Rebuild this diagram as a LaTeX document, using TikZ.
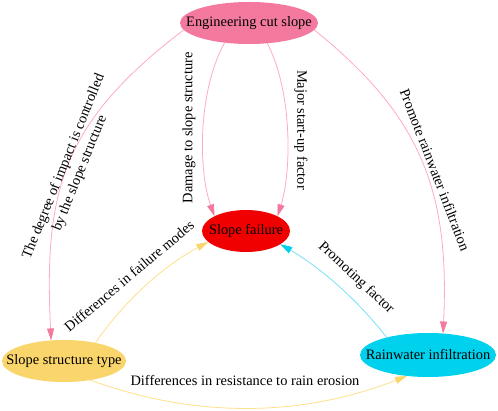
\documentclass[tikz,border=0pt]{standalone}
\usepackage{fontspec}
\setmainfont{Liberation Serif}
\usetikzlibrary{arrows.meta,shapes.geometric}
\definecolor{engpink}{RGB}{243,122,158}
\definecolor{pinkline}{RGB}{255,170,195}
\definecolor{failred}{RGB}{240,0,0}
\definecolor{sstyellow}{RGB}{249,213,107}
\definecolor{yelline}{RGB}{255,224,140}
\definecolor{ricyan}{RGB}{0,210,238}
\definecolor{cyanline}{RGB}{120,225,245}
\begin{document}
\begin{tikzpicture}[x=1pt,y=-1pt,
  txt/.style={font=\fontsize{14.4}{17.4}\selectfont, inner sep=0pt, text=black},
  ell/.style={ellipse, inner sep=0pt, outer sep=0pt, draw=none},
  pinkedge/.style={draw=pinkline, line width=0.8pt, -{Triangle[length=12pt,width=7pt,color=engpink]}},
  yeledge/.style={draw=yelline, line width=0.8pt, -{Triangle[length=12pt,width=7pt,color=sstyellow]}},
  cyanedge/.style={draw=cyanline, line width=0.8pt, -{Triangle[length=12pt,width=7pt,color=ricyan]}},
  lab/.style={txt, align=center}
]
\useasboundingbox (0,0) rectangle (498,411);
\fill[white] (0,0) rectangle (498,411);

\node[ell, fill=engpink, minimum width=138pt, minimum height=42pt,
  label={[txt]center:Engineering cut slope}] (eng) at (249,23) {};
\node[ell, fill=failred, minimum width=88pt, minimum height=42pt,
  label={[txt]center:Slope failure}] (sf) at (246,231) {};
\node[ell, fill=sstyellow, minimum width=124pt, minimum height=42pt,
  label={[txt]center:Slope structure type}] (sst) at (64,361) {};
\node[ell, fill=ricyan, minimum width=136pt, minimum height=44pt,
  label={[txt]center:Rainwater infiltration}] (ri) at (428,355) {};

% edges
\draw[pinkedge] (eng.186) .. controls (63.5,121.5) and (43.5,189) .. (sst.122);
\draw[pinkedge] (eng.-6) .. controls (420,115) and (450,190) .. (ri.55);
\draw[pinkedge] (eng.219) .. controls (198,90) and (198,170) .. (sf.155);
\draw[pinkedge] (eng.-48) .. controls (292,90) and (292,170) .. (sf.25);
\draw[yeledge] (sst.30) .. controls (125,300.3) and (162.7,266.6) .. (sf.196);
\draw[cyanedge] (ri.157) .. controls (357.2,299.6) and (321.7,268.5) .. (sf.-21);
\draw[yeledge] (sst.-36) .. controls (195.8,418.6) and (301.5,417.2) .. (ri.225);

% labels
\node[lab, rotate=68] (l1) at (72,170) {The degree of impact is controlled\\by the slope structure};
\node[lab, rotate=90] (l2) at (189,128) {Damage to slope structure};
\node[lab, rotate=-90] (l3) at (301,130) {Major start-up factor};
\node[lab, rotate=-69] (l4) at (435,170) {Promote rainwater infiltration};
\node[lab, rotate=40] (l5) at (129,276) {Differences in failure modes};
\node[lab, rotate=-43] (l6) at (356,278) {Promoting factor};
\node[lab] (l7) at (245,381) {Differences in resistance to rain erosion};
\end{tikzpicture}
\end{document}
